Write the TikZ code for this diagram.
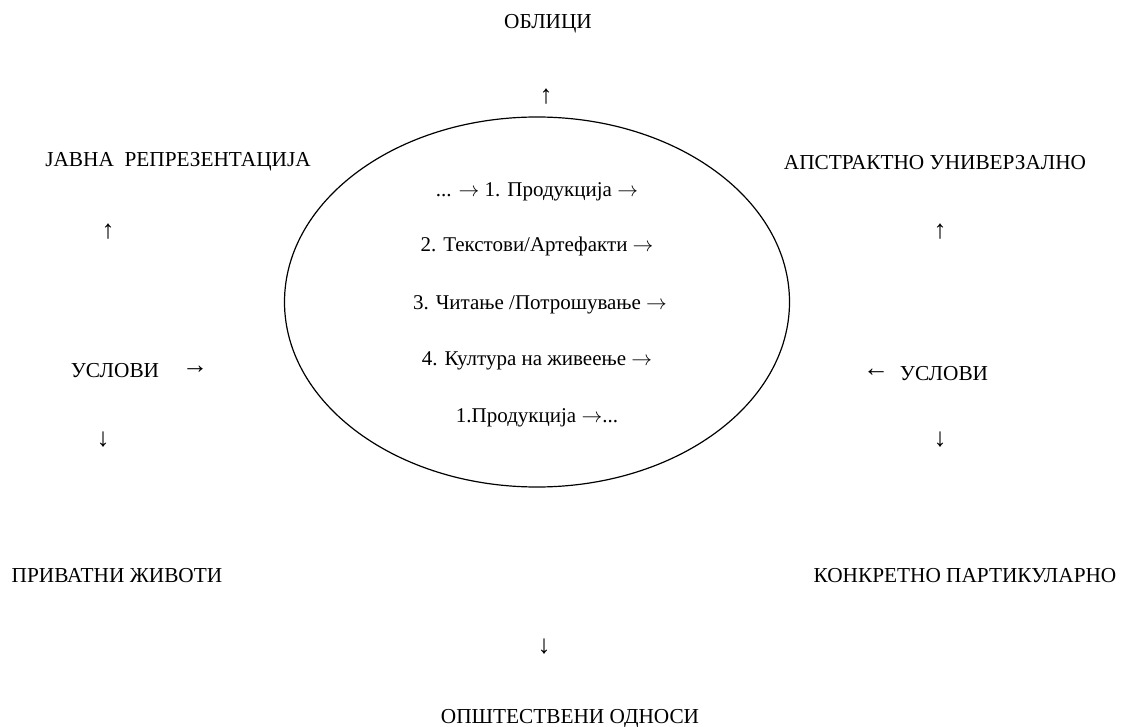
\documentclass[tikz,border=0pt]{standalone}
\usepackage{fontspec}
\setmainfont{Liberation Serif}
\usetikzlibrary{shapes.geometric}

\begin{document}
\begin{tikzpicture}[x=1pt,y=-1pt,
      term/.style={inner sep=0pt,anchor=base,font=\fontsize{21.3}{25}\selectfont},
      stage/.style={inner sep=0pt,anchor=base,font=\fontsize{21}{25}\selectfont},
      glyph/.style={inner sep=0pt,font=\fontsize{26}{30}\selectfont}
    ]
      \useasboundingbox (0,0) rectangle (1127,727);
      \node[ellipse,draw,line width=1.2pt,minimum width=505pt,minimum height=370pt] (cycle) at (537,302) {};
      \node[stage] (prod) at (537,197) {... $\rightarrow$ 1. Продукција $\rightarrow$};
      \node[stage] (texts) at (537,252) {2. Текстови/Артефакти $\rightarrow$};
      \node[stage] (reading) at (540,309) {3. Читање /Потрошување $\rightarrow$};
      \node[stage] (living) at (537,365) {4. Култура на живеење $\rightarrow$};
      \node[stage] (prodagain) at (537,422) {1.Продукција $\rightarrow$...};
      % top and bottom
      \node[term] (forms) at (548,29) {ОБЛИЦИ};
      \node[glyph] (upforms) at (546,97) {↑};
      \node[glyph] (downrel) at (544,647) {↓};
      \node[term] (relations) at (570,723) {ОПШТЕСТВЕНИ ОДНОСИ};
      % left side
      \node[term] (public) at (178,167) {ЈАВНА~~РЕПРЕЗЕНТАЦИЈА};
      \node[glyph] (uppublic) at (108,232) {↑};
      \node[term] (condleft) at (115,377) {УСЛОВИ};
      \node[glyph] (tocycle) at (195,370) {→};
      \node[glyph] (downprivate) at (103,440) {↓};
      \node[term] (private) at (117,582) {ПРИВАТНИ ЖИВОТИ};
      % right side
      \node[term] (abstract) at (935,170) {АПСТРАКТНО УНИВЕРЗАЛНО};
      \node[glyph] (upabstract) at (940,232) {↑};
      \node[glyph] (fromcycle) at (876,373) {←};
      \node[term] (condright) at (944,380) {УСЛОВИ};
      \node[glyph] (downconcrete) at (940,440) {↓};
      \node[term] (concrete) at (965,582) {КОНКРЕТНО ПАРТИКУЛАРНО};
    \end{tikzpicture}
\end{document}
